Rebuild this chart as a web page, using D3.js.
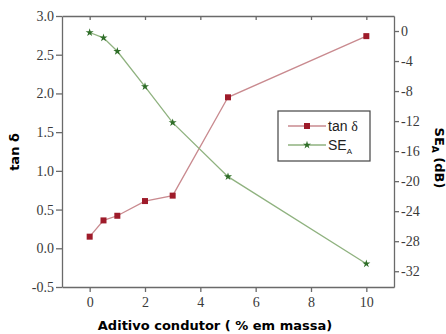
<!DOCTYPE html>
<html>
<head>
<meta charset="utf-8">
<script src="https://cdn.jsdelivr.net/npm/d3@7"></script>
<style>
  body { margin: 0; background: #fff; }
</style>
</head>
<body>
<svg id="chart" width="446" height="334"></svg>
<script>
// Data
let additive = [0, 0.5, 1, 2, 3, 5, 10];
let tanDelta = [0.15, 0.36, 0.42, 0.61, 0.68, 1.95, 2.74];
let seA = [-0.2, -0.9, -2.7, -7.4, -12.2, -19.4, -31.0];
let xTicks = [0, 2, 4, 6, 8, 10];
let leftTicks = [-0.5, 0, 0.5, 1, 1.5, 2, 2.5, 3];
let rightTicks = [0, -4, -8, -12, -16, -20, -24, -28, -32];

let svg = d3.select('#chart');
let margin = { left: 62, right: 52, top: 16, bottom: 47 };
let width = +svg.attr('width');
let height = +svg.attr('height');
let axisColor = '#6a6a6a';
let textColor = '#3a3a3a';
let redLine = '#c98a8f', redMark = '#9e1b2a';
let greenLine = '#8fb27f', greenMark = '#2f6e28';
let serif = "'Liberation Serif', 'Times New Roman', serif";
let titleFont = "'DejaVu Sans', sans-serif";

let x = d3.scaleLinear().domain([-1, 11]).range([margin.left, width - margin.right]);
let yL = d3.scaleLinear().domain([-0.5, 3]).range([height - margin.bottom, margin.top]);
let yR = d3.scaleLinear().domain([-34.1, 2]).range([height - margin.bottom, margin.top]);

// Axes
function styleAxis(g) {
    g.attr('font-family', serif).attr('font-size', 14);
    g.selectAll('path, line').attr('stroke', axisColor).attr('stroke-width', 1.3);
    g.selectAll('text').attr('fill', textColor);
}

svg.append('g')
    .attr('transform', 'translate(0,' + (height - margin.bottom) + ')')
    .call(d3.axisBottom(x).tickValues(xTicks).tickSize(5).tickPadding(5).tickSizeOuter(0))
    .call(styleAxis);

svg.append('g')
    .attr('transform', 'translate(0,' + margin.top + ')')
    .call(d3.axisBottom(x).tickValues(xTicks).tickSize(4).tickFormat('').tickSizeOuter(0))
    .call(styleAxis);

svg.append('g')
    .attr('transform', 'translate(' + margin.left + ',0)')
    .call(d3.axisLeft(yL).tickValues(leftTicks).tickSize(6).tickPadding(2).tickSizeOuter(0)
        .tickFormat(d => d.toFixed(1)))
    .call(styleAxis);

svg.append('g')
    .attr('transform', 'translate(' + (width - margin.right) + ',0)')
    .call(d3.axisRight(yR).tickValues(rightTicks).tickSize(5).tickPadding(2).tickSizeOuter(0)
        .tickFormat(d => String(d)))
    .call(styleAxis);

// Axis titles
svg.append('text')
    .attr('x', 215)
    .attr('y', 330)
    .attr('text-anchor', 'middle')
    .style('font-family', titleFont)
    .style('font-weight', 'bold')
    .style('font-size', '13px')
    .text('Aditivo condutor ( % em massa)');

svg.append('text')
    .attr('transform', 'translate(19,152) rotate(-90)')
    .attr('text-anchor', 'middle')
    .style('font-family', titleFont)
    .style('font-weight', 'bold')
    .style('font-size', '13px')
    .text('tan δ');

let rt = svg.append('text')
    .attr('transform', 'translate(435,158) rotate(90)')
    .attr('text-anchor', 'middle')
    .style('font-family', titleFont)
    .style('font-weight', 'bold')
    .style('font-size', '13px');
rt.append('tspan').text('SE');
rt.append('tspan').attr('dy', 3).style('font-size', '9px').text('A');
rt.append('tspan').attr('dy', -3).text(' (dB)');

// Series
let tanData = additive.map((d, i) => [d, tanDelta[i]]);
let seData = additive.map((d, i) => [d, seA[i]]);

svg.append('path')
    .datum(tanData)
    .attr('fill', 'none')
    .attr('stroke', redLine)
    .attr('stroke-width', 1.3)
    .attr('d', d3.line().x(d => x(d[0])).y(d => yL(d[1])));

svg.append('path')
    .datum(seData)
    .attr('fill', 'none')
    .attr('stroke', greenLine)
    .attr('stroke-width', 1.3)
    .attr('d', d3.line().x(d => x(d[0])).y(d => yR(d[1])));

svg.selectAll('.sq')
    .data(tanData)
    .enter().append('rect')
    .attr('x', d => x(d[0]) - 3)
    .attr('y', d => yL(d[1]) - 3)
    .attr('width', 6)
    .attr('height', 6)
    .attr('fill', redMark);

let star = d3.symbol().type(d3.symbolStar).size(20);
svg.selectAll('.st')
    .data(seData)
    .enter().append('path')
    .attr('d', star)
    .attr('transform', d => 'translate(' + x(d[0]) + ',' + yR(d[1]) + ')')
    .attr('fill', greenMark);

// Legend
let legend = svg.append('g').attr('transform', 'translate(278,111)');
legend.append('rect')
    .attr('width', 92).attr('height', 50)
    .attr('fill', '#fff')
    .attr('stroke', '#444')
    .attr('stroke-width', 1.2);

let legendItems = [
    { color: redLine, mark: redMark, type: 'sq', y: 15 },
    { color: greenLine, mark: greenMark, type: 'star', y: 34 }
];
legendItems.forEach(it => {
    legend.append('line')
        .attr('x1', 10).attr('x2', 48)
        .attr('y1', it.y).attr('y2', it.y)
        .attr('stroke', it.color).attr('stroke-width', 1.3);
    if (it.type === 'sq') {
        legend.append('rect')
            .attr('x', 26).attr('y', it.y - 3).attr('width', 6).attr('height', 6)
            .attr('fill', it.mark);
    } else {
        legend.append('path').attr('d', star)
            .attr('transform', 'translate(29,' + it.y + ')')
            .attr('fill', it.mark);
    }
});

let lt1 = legend.append('text')
    .attr('x', 50).attr('y', 20)
    .style('font-family', "'Liberation Sans', Arial, sans-serif")
    .style('font-size', '14px')
    .attr('fill', '#222');
lt1.append('tspan').text('tan ');
lt1.append('tspan').style('font-family', serif).text('δ');

let lt2 = legend.append('text')
    .attr('x', 50).attr('y', 39)
    .style('font-family', "'Liberation Sans', Arial, sans-serif")
    .style('font-size', '14px')
    .attr('fill', '#222');
lt2.append('tspan').text('SE');
lt2.append('tspan').attr('dy', 4).style('font-size', '8px').text('A');
</script>
</body>
</html>
